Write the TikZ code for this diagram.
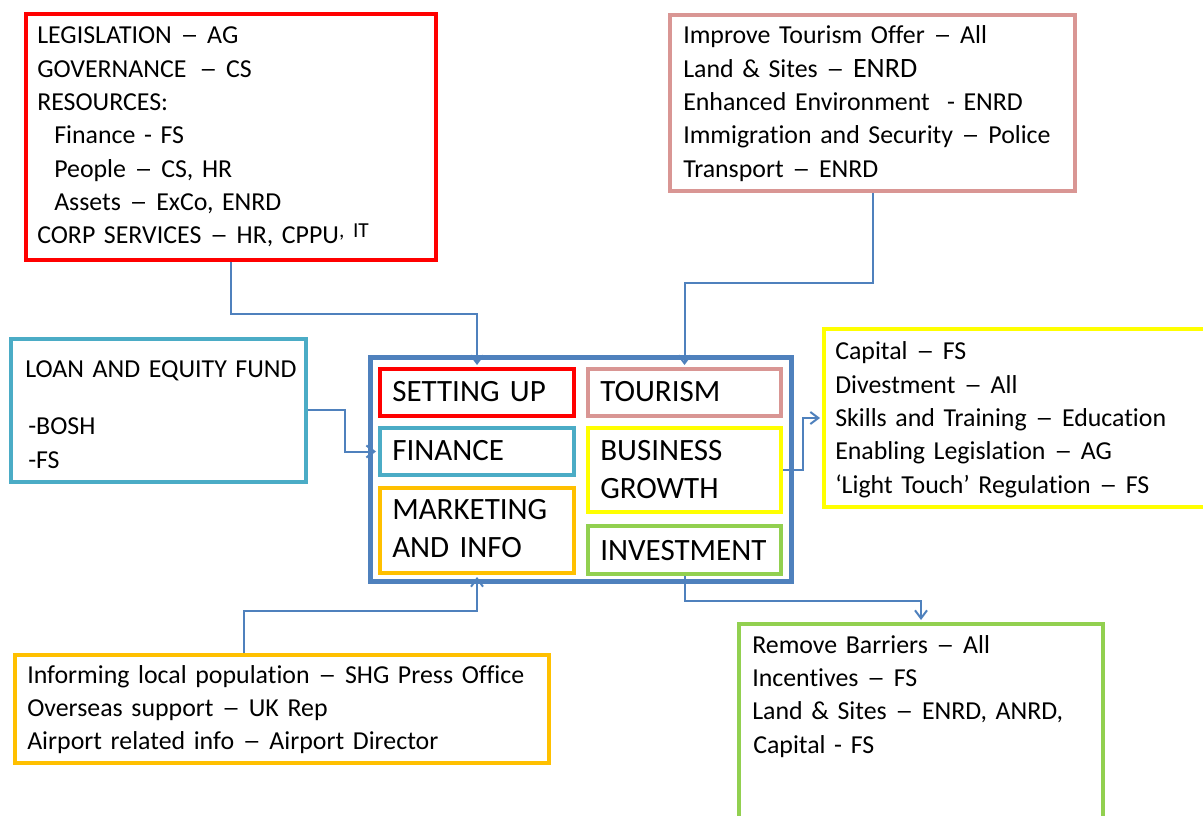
\documentclass[tikz,border=0pt]{standalone}
\usepackage{fontspec}
\usepackage{graphicx}
\setmainfont{Carlito}[Ligatures={NoCommon}]
\usetikzlibrary{arrows.meta,fit,calc}
\definecolor{cRed}{HTML}{FF0000}
\definecolor{cPink}{HTML}{D99694}
\definecolor{cTeal}{HTML}{4BACC6}
\definecolor{cYel}{HTML}{FFFF00}
\definecolor{cOra}{HTML}{FFC000}
\definecolor{cGrn}{HTML}{92D050}
\definecolor{cBlue}{HTML}{4F81BD}
\newcommand{\dsh}{\scalebox{1.4}[1]{–}}
\begin{document}
\begin{tikzpicture}[x=0.75pt,y=-0.75pt,
  box/.style={draw=#1, line width=3pt, inner sep=0pt},
  bigbox/.style={draw=cBlue, line width=3.75pt, inner sep=0pt},
  conn/.style={draw=cBlue, line width=1.5pt, shorten >=1.5pt, -{Straight Barb[length=6pt,width=9pt]}},
  otext/.style={anchor=base west, inner sep=0pt, align=left, text width=420pt, font=\fontsize{19.4pt}{25pt}\selectfont},
  itext/.style={anchor=base west, inner sep=0pt, align=left, text width=150pt, font=\fontsize{23.25pt}{28.5pt}\selectfont}]
\useasboundingbox (0,0) rectangle (1203,816);

% outer boxes
\node[box=cRed, fit={(26,14) (436,260)}] (legis) {};
\node[box=cPink, fit={(670,15) (1075,191)}] (tour) {};
\node[box=cTeal, fit={(11,339) (306,482)}] (loan) {};
\node[box=cYel, fit={(824,329) (1215,507)}] (capital) {};
\node[box=cOra, fit={(15,655) (549,763)}] (inform) {};
\node[box=cGrn, fit={(739,624) (1103,840)}] (remove) {};

% central box
\node[bigbox, fit={(370.5,357.5) (791.5,581.5)}] (centre) {};
\node[box=cRed, fit={(380,369) (574,416)}] (setup) {};
\node[box=cPink, fit={(588,369) (781,416)}] (tourism) {};
\node[box=cTeal, fit={(380,428) (574,475)}] (finance) {};
\node[box=cYel, fit={(588,428) (781,512)}] (business) {};
\node[box=cOra, fit={(380,488) (574,573)}] (marketing) {};
\node[box=cGrn, fit={(588,526) (781,574)}] (investment) {};

% inner texts
\node[itext] (setupT) at (392,402) {SETTING UP};
\node[itext] (tourismT) at (600,402) {TOURISM};
\node[itext] (financeT) at (392,460) {FINANCE};
\node[itext] (businessT) at (600,460) {BUSINESS\\GROWTH};
\node[itext] (marketingT) at (392,519) {MARKETING\\AND INFO};
\node[itext] (investmentT) at (600,560) {INVESTMENT};

% outer texts
\node[otext] (legisT) at (37,44) {LEGISLATION \dsh{} AG\\GOVERNANCE\, \dsh{} CS\\RESOURCES:\\\hspace*{12.75pt}Finance - FS\\\hspace*{12.75pt}People \dsh{} CS, HR\\\hspace*{12.75pt}Assets \dsh{} ExCo, ENRD\\CORP SERVICES \dsh{} HR, CPPU\raisebox{4.5pt}{\fontsize{16pt}{20pt}\selectfont, IT}};
\node[otext] (tourT) at (683,44) {Improve Tourism Offer \dsh{} All\\Land \& Sites \dsh{} {\fontsize{21pt}{25pt}\selectfont ENRD}\\Enhanced Environment~ - ENRD\\Immigration and Security \dsh{} Police\\Transport \dsh{} ENRD};
\node[otext] (capitalT) at (835,360) {Capital \dsh{} FS\\Divestment \dsh{} All\\Skills and Training \dsh{} Education\\Enabling Legislation \dsh{} AG\\‘Light Touch’ Regulation \dsh{} FS};
\node[otext] (loanT) at (25,378) {LOAN AND EQUITY FUND\\[17.75pt]\hspace*{2.25pt}-BOSH\\\hspace*{2.25pt}-FS};
\node[otext] (informT) at (27,683) {Informing local population \dsh{} SHG Press Office\\Overseas support \dsh{} UK Rep\\Airport related info \dsh{} Airport Director};
\node[otext] (removeT) at (752,653) {Remove Barriers \dsh{} All\\Incentives \dsh{} FS\\Land \& Sites \dsh{} ENRD, ANRD,\\\hspace*{0.75pt}Capital - FS};

% connectors
\draw[conn] (legis.south) -- ++(0,52) -| (setup.north);
\draw[conn] (tour.south) -- ++(0,90) -| (tourism.north);
\draw[conn] (loan.east) -- ++(37,0) |- (finance.west);
\draw[conn] (business.east) -- ++(20,0) |- (capital.west);
\draw[conn] ($(inform.north west)+(231,0)$) -- ++(0,-42) -| (marketing.south);
\draw[conn] (investment.south) -- ++(0,25) -| (remove.north);
\end{tikzpicture}
\end{document}
